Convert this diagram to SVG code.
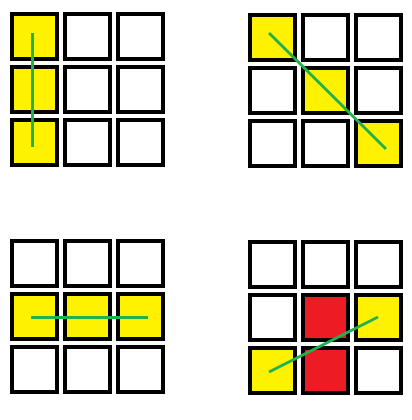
<svg xmlns="http://www.w3.org/2000/svg" width="412" height="420" viewBox="0 0 412 420">
<style>
.c{stroke:#000;stroke-width:4;fill:#fff}
.y{fill:#fff200}
.r{fill:#ed1c24}
.g{stroke:#22b14c;stroke-width:3;fill:none}
</style>
<rect width="412" height="420" fill="#fff"/>
<g id="grid-top-left">
<rect class="c y" x="12" y="14" width="45" height="45"/>
<rect class="c" x="65" y="14" width="45" height="45"/>
<rect class="c" x="118" y="14" width="45" height="45"/>
<rect class="c y" x="12" y="67" width="45" height="45"/>
<rect class="c" x="65" y="67" width="45" height="45"/>
<rect class="c" x="118" y="67" width="45" height="45"/>
<rect class="c y" x="12" y="120" width="45" height="45"/>
<rect class="c" x="65" y="120" width="45" height="45"/>
<rect class="c" x="118" y="120" width="45" height="45"/>
</g>
<g id="grid-top-right">
<rect class="c y" x="250" y="15" width="45" height="45"/>
<rect class="c" x="303" y="15" width="45" height="45"/>
<rect class="c" x="356" y="15" width="45" height="45"/>
<rect class="c" x="250" y="68" width="45" height="45"/>
<rect class="c y" x="303" y="68" width="45" height="45"/>
<rect class="c" x="356" y="68" width="45" height="45"/>
<rect class="c" x="250" y="121" width="45" height="45"/>
<rect class="c" x="303" y="121" width="45" height="45"/>
<rect class="c y" x="356" y="121" width="45" height="45"/>
</g>
<g id="grid-bottom-left">
<rect class="c" x="12" y="241" width="45" height="45"/>
<rect class="c" x="65" y="241" width="45" height="45"/>
<rect class="c" x="118" y="241" width="45" height="45"/>
<rect class="c y" x="12" y="294" width="45" height="45"/>
<rect class="c y" x="65" y="294" width="45" height="45"/>
<rect class="c y" x="118" y="294" width="45" height="45"/>
<rect class="c" x="12" y="347" width="45" height="45"/>
<rect class="c" x="65" y="347" width="45" height="45"/>
<rect class="c" x="118" y="347" width="45" height="45"/>
</g>
<g id="grid-bottom-right">
<rect class="c" x="250" y="242" width="45" height="45"/>
<rect class="c" x="303" y="242" width="45" height="45"/>
<rect class="c" x="356" y="242" width="45" height="45"/>
<rect class="c" x="250" y="295" width="45" height="45"/>
<rect class="c r" x="303" y="295" width="45" height="45"/>
<rect class="c y" x="356" y="295" width="45" height="45"/>
<rect class="c y" x="250" y="348" width="45" height="45"/>
<rect class="c r" x="303" y="348" width="45" height="45"/>
<rect class="c" x="356" y="348" width="45" height="45"/>
</g>
<g id="connectors">
<line class="g" x1="32.5" y1="33" x2="32.5" y2="147"/>
<line class="g" x1="269" y1="33" x2="386" y2="149"/>
<line class="g" x1="31" y1="317.5" x2="148" y2="317.5"/>
<line class="g" x1="269" y1="372" x2="378" y2="317"/>
</g>
</svg>
